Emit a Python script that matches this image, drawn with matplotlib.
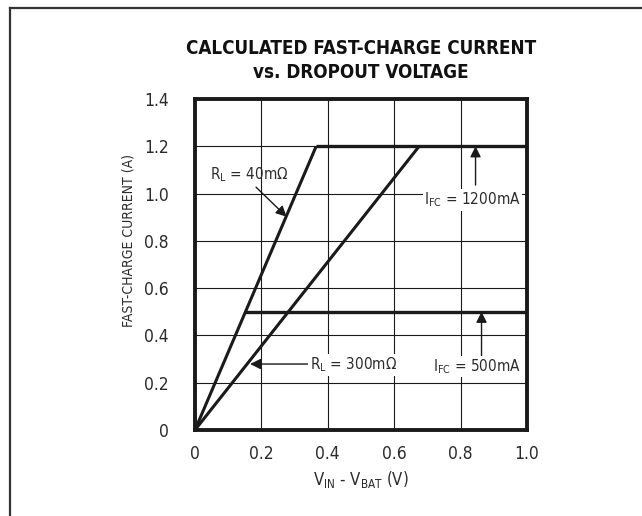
import matplotlib
matplotlib.use("Agg")
import matplotlib.pyplot as plt
from matplotlib.lines import Line2D

# fuente estrecha parecida a la del datasheet
plt.rcParams['font.family'] = ['DejaVu Sans']
plt.rcParams['font.stretch'] = 'condensed'
plt.rcParams['mathtext.fontset'] = 'custom'
plt.rcParams['mathtext.rm'] = 'DejaVu Sans:stretch=condensed'

# datos
v_40 = [0, 0.365]
i_40 = [0, 1.2]
v_300 = [0, 0.675]
i_300 = [0, 1.2]
v_1200 = [0.365, 1.0]
i_1200 = [1.2, 1.2]
v_500 = [0.152, 1.0]
i_500 = [0.5, 0.5]

xticks = [0, 0.2, 0.4, 0.6, 0.8, 1.0]
xlabels = ["0", "0.2", "0.4", "0.6", "0.8", "1.0"]
yticks = [0, 0.2, 0.4, 0.6, 0.8, 1.0, 1.2, 1.4]
ylabels = ["0", "0.2", "0.4", "0.6", "0.8", "1.0", "1.2", "1.4"]

txt = "#2b2b2b"

fig = plt.figure(figsize=(6.42, 5.16), dpi=100)
ax = fig.add_axes([0.3037, 0.1667, 0.5172, 0.6414])

ax.plot(v_40, i_40, color="#1a1a1a", lw=2.2, solid_capstyle="butt")
ax.plot(v_300, i_300, color="#1a1a1a", lw=2.2, solid_capstyle="butt")
ax.plot(v_1200, i_1200, color="#1a1a1a", lw=2.4, solid_capstyle="butt")
ax.plot(v_500, i_500, color="#1a1a1a", lw=2.4, solid_capstyle="butt")

ax.set_xlim(0, 1.0)
ax.set_ylim(0, 1.4)
ax.set_xticks(xticks)
ax.set_xticklabels(xlabels)
ax.set_yticks(yticks)
ax.set_yticklabels(ylabels)
ax.tick_params(length=0, labelsize=12.5, labelcolor=txt)
ax.tick_params(axis="y", pad=19)
ax.tick_params(axis="x", pad=11)
ax.grid(True, color="#1a1a1a", lw=0.8)
ax.set_axisbelow(True)
for s in ax.spines.values():
    s.set_linewidth(2.8)
    s.set_color("#1a1a1a")

ax.set_xlabel(r"V$_\mathregular{IN}$ - V$_\mathregular{BAT}$ (V)", fontsize=12, color=txt, labelpad=4)
ax.set_ylabel("FAST-CHARGE CURRENT (A)", fontsize=10, color=txt)
ax.yaxis.set_label_coords(-0.178, 0.574)

fig.text(0.5623, 0.8828, "CALCULATED FAST-CHARGE CURRENT\nvs. DROPOUT VOLTAGE",
         ha="center", va="center", fontsize=13.5, fontweight="bold",
         color="#111111", linespacing=1.38)

arrow = dict(arrowstyle="-|>", color="#1a1a1a", lw=1.0, mutation_scale=16,
             shrinkA=0, shrinkB=0)
box = dict(facecolor="white", edgecolor="none", pad=1)

ax.annotate("", xy=(0.276, 0.902), xytext=(0.184, 1.027), arrowprops=arrow)
ax.text(0.163, 1.079, r"R$_\mathregular{L}$ = 40m$\Omega$", ha="center", va="center",
        fontsize=11, color=txt)

ax.annotate("", xy=(0.166, 0.279), xytext=(0.352, 0.279), arrowprops=arrow)
ax.text(0.477, 0.275, r"R$_\mathregular{L}$ = 300m$\Omega$", ha="center", va="center",
        fontsize=11, color=txt, bbox=box)

ax.annotate("", xy=(0.845, 1.2), xytext=(0.845, 1.036), arrowprops=arrow)
ax.text(0.835, 0.973, r"I$_\mathregular{FC}$ = 1200mA", ha="center", va="center",
        fontsize=11, color=txt, bbox=box)

ax.annotate("", xy=(0.863, 0.5), xytext=(0.863, 0.31), arrowprops=arrow)
ax.text(0.85, 0.268, r"I$_\mathregular{FC}$ = 500mA", ha="center", va="center",
        fontsize=11, color=txt, bbox=box)

# marco exterior (solo arriba e izquierda)
fig.add_artist(Line2D([10 / 642, 1], [1 - 7.5 / 516, 1 - 7.5 / 516], color="#333333", lw=1.6))
fig.add_artist(Line2D([10 / 642, 10 / 642], [0, 1 - 7.5 / 516], color="#333333", lw=1.6))

fig.savefig("out.png", dpi=100)
